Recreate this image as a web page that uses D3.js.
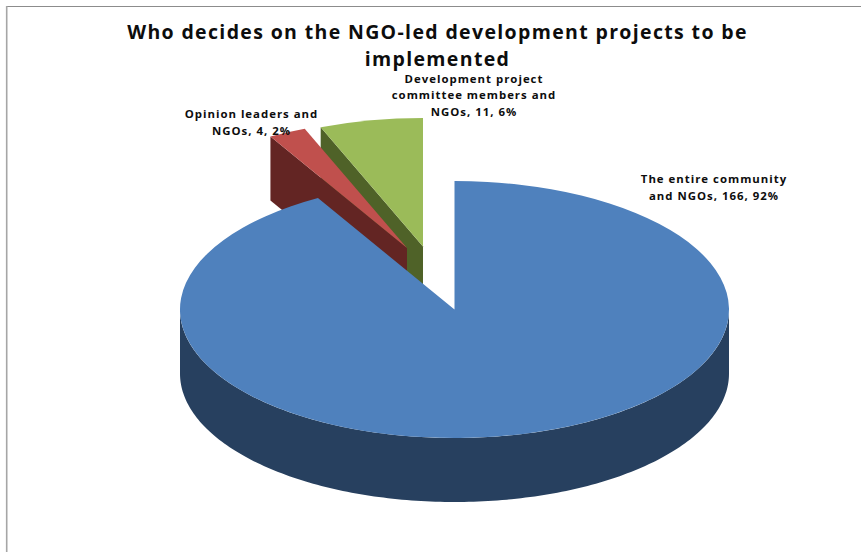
<!DOCTYPE html>
<html>
<head>
<meta charset="utf-8">
<script src="https://cdn.jsdelivr.net/npm/d3@7/dist/d3.min.js"></script>
<style>
html,body{margin:0;padding:0;background:#fff}
svg{display:block}
text{font-family:"Open Sans",sans-serif;font-weight:700;fill:#0d0d0d}
</style>
</head>
<body>
<svg id="c" width="861" height="552"></svg>
<script>
const titleLines = ["Who decides on the NGO-led development projects to be", "implemented"];
const categories = ["The entire community and NGOs", "Opinion leaders and NGOs", "Development project committee members and NGOs"];
const values = [166, 4, 11];
const percents = ["92%", "2%", "6%"];
const labelLines = [
  ["The entire community", "and NGOs, 166, 92%"],
  ["Opinion leaders and", "NGOs, 4, 2%"],
  ["Development project", "committee members and", "NGOs, 11, 6%"]
];
const topColors = ["#4f81bd", "#c0504d", "#9bbb59"];
const wallColors = ["#27405f", "#632523", "#4f6228"];

// layout
const W = 861, H = 552;
const rx = 274.5, ry = 128.5, depth = 64;
const cx = 454.5, cy = 309.5;
const explode = [[0, 0], [-47.5, -61.5], [-31.5, -63]];
const labelPos = [
  {x: 714, ys: [183, 200]},
  {x: 251.5, ys: [118, 135]},
  {x: 474, ys: [82.5, 99, 116]}
];

const svg = d3.select("#c");

// frame
svg.append("line").attr("x1", 6).attr("x2", W).attr("y1", 6.5).attr("y2", 6.5).attr("stroke", "#8c8c8c").attr("stroke-width", 1.2);
svg.append("line").attr("x1", 6.7).attr("x2", 6.7).attr("y1", 6).attr("y2", H).attr("stroke", "#a6a6a6").attr("stroke-width", 1.6);

const pie = d3.pie().sort(null).value(d => d).startAngle(0).endAngle(2 * Math.PI);
const arcs = pie(values);
const px = a => rx * Math.sin(a);
const py = a => -ry * Math.cos(a);

const topArc = d3.arc().innerRadius(0).outerRadius(rx);
const rim = d3.line().x(d => d[0]).y(d => d[1]);

// draw back-to-front: green, red, blue
[2, 1, 0].forEach(i => {
  const d = arcs[i];
  const g = svg.append("g").attr("transform", `translate(${cx + explode[i][0]},${cy + explode[i][1]})`);
  const a0 = d.startAngle, a1 = d.endAngle;

  if (i !== 0) {
    // cut face visible on the left-hand (start) edge of the exploded slices
    g.append("path")
      .attr("d", rim([[0, 0], [px(a0), py(a0)], [px(a0), py(a0) + depth], [0, depth]]) + "Z")
      .attr("fill", wallColors[i]);
  } else {
    // outer wall: only the front half of the ellipse faces the viewer
    const steps = d3.range(Math.PI / 2, 3 * Math.PI / 2 + 0.001, Math.PI / 180);
    const outer = steps.map(a => [px(a), py(a)]);
    const inner = steps.slice().reverse().map(a => [px(a), py(a) + depth]);
    g.append("path").attr("d", rim(outer.concat(inner)) + "Z").attr("fill", wallColors[i]);
  }

  g.append("g").attr("transform", `scale(1,${ry / rx})`)
    .append("path").attr("d", topArc(d)).attr("fill", topColors[i]);
});

// title
const titleY = [39, 66];
svg.append("g").selectAll("text").data(titleLines).join("text")
  .attr("x", 437.5).attr("y", (d, i) => titleY[i])
  .attr("text-anchor", "middle")
  .attr("font-size", 19.5).attr("letter-spacing", 1.35)
  .text(d => d);

// data labels
labelLines.forEach((lines, i) => {
  svg.append("g").attr("data-category", categories[i]).selectAll("text").data(lines).join("text")
    .attr("x", labelPos[i].x).attr("y", (d, j) => labelPos[i].ys[j])
    .attr("text-anchor", "middle")
    .attr("font-size", 11.4).attr("letter-spacing", 1)
    .text(d => d);
});
</script>
</body>
</html>
